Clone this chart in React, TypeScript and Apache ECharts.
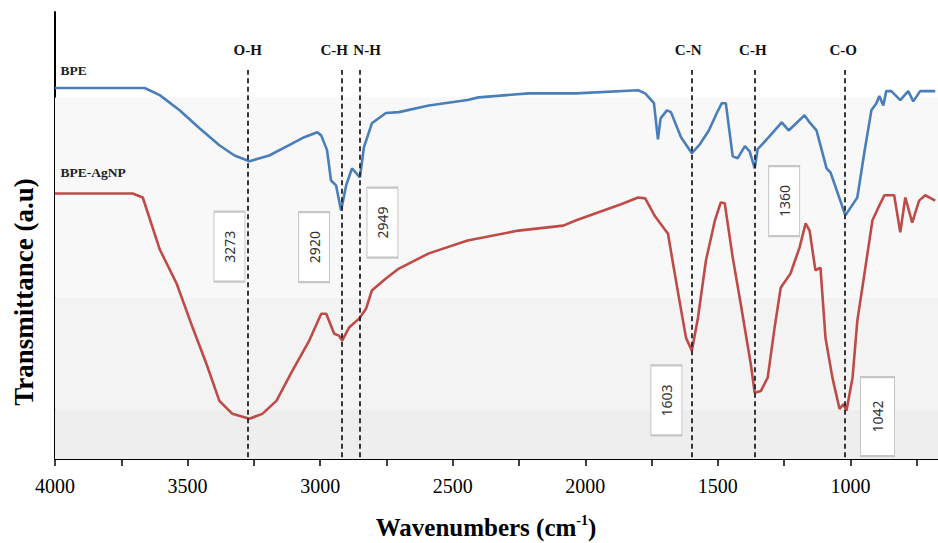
import React, { useEffect, useRef } from "react";
import * as echarts from "echarts";

// ---- Data (wavenumber cm^-1, transmittance a.u.) ----
const bpeWavenumbers = [4000, 3662, 3605, 3530, 3455, 3380, 3323, 3267, 3192, 3117, 3060, 3011, 2996, 2974, 2959, 2940, 2921, 2902, 2880, 2850, 2835, 2805, 2752, 2703, 2590, 2444, 2402, 2214, 2034, 1801, 1774, 1741, 1726, 1716, 1692, 1677, 1639, 1598, 1568, 1534, 1504, 1485, 1470, 1444, 1425, 1398, 1380, 1361, 1350, 1308, 1259, 1233, 1173, 1154, 1128, 1090, 1075, 1019, 974, 947, 921, 902, 891, 876, 865, 846, 812, 782, 763, 737, 680];
const bpeValues = [83.0, 83.0, 81.4, 78.0, 74.0, 70.2, 67.9, 66.6, 67.9, 70.2, 72.0, 73.1, 72.4, 69.1, 62.3, 61.2, 55.6, 61.2, 65.0, 63.0, 69.7, 75.1, 77.4, 77.6, 79.1, 80.3, 80.9, 81.8, 81.8, 82.5, 81.8, 79.6, 71.5, 76.2, 78.0, 77.6, 72.0, 68.4, 70.4, 73.5, 77.4, 79.6, 79.6, 67.7, 67.3, 70.0, 68.8, 65.0, 69.3, 72.0, 75.3, 73.5, 76.9, 75.3, 73.5, 65.0, 64.1, 54.5, 58.5, 68.8, 78.0, 79.6, 81.2, 79.1, 82.3, 82.3, 80.3, 82.3, 80.0, 82.3, 82.3];

const agnpWavenumbers = [4000, 3707, 3669, 3605, 3541, 3481, 3429, 3380, 3331, 3267, 3218, 3165, 3105, 3041, 2996, 2977, 2947, 2929, 2917, 2891, 2853, 2827, 2805, 2752, 2703, 2590, 2444, 2252, 2083, 2034, 1865, 1801, 1774, 1737, 1688, 1669, 1643, 1620, 1598, 1575, 1545, 1511, 1489, 1474, 1444, 1414, 1376, 1361, 1338, 1312, 1286, 1263, 1226, 1192, 1169, 1154, 1132, 1113, 1094, 1068, 1041, 1026, 1015, 992, 974, 947, 917, 887, 872, 835, 812, 793, 767, 741, 718, 680];
const agnpValues = [59.4, 59.4, 58.5, 46.9, 39.2, 29.4, 21.3, 13.0, 10.1, 9.0, 10.1, 13.0, 19.7, 26.5, 32.5, 32.5, 28.0, 27.6, 26.5, 29.4, 31.4, 33.6, 37.7, 40.4, 42.6, 46.0, 48.9, 51.1, 52.2, 53.4, 57.0, 58.5, 58.3, 54.3, 50.4, 43.7, 34.8, 27.1, 24.2, 31.6, 44.4, 53.4, 57.4, 57.2, 45.1, 34.8, 21.3, 14.8, 15.2, 18.2, 29.4, 38.3, 41.5, 47.3, 52.7, 51.1, 42.2, 42.8, 27.1, 18.2, 11.2, 12.3, 10.8, 18.2, 30.9, 41.5, 53.4, 57.2, 59.0, 59.0, 50.7, 58.5, 52.9, 57.8, 59.0, 57.8];

// Vertical marker lines (band assignments)
const bandLineWavenumbers = [3273, 2920, 2850, 1600, 1360, 1020];
const bandNames = ["O-H", "C-H", "N-H", "C-N", "C-H", "C-O"];
const bandNameWavenumbers = [3273, 2947, 2823, 1612, 1368, 1027];
const bandLineTop = 87.0;
const bandLineBottom = 0.4;
const bandNameLevel = 91.6;

// Peak value boxes
const peakLabels = ["3273", "2920", "2949", "1360", "1603", "1042"];
const peakBoxWavenumbers = [3342, 3023, 2765, 1250, 1694, 898];
const peakBoxLevels = [47.5, 47.4, 52.9, 57.7, 13.1, 9.5];

// Series names
const seriesNames = ["BPE", "BPE-AgNP"];
const seriesNameLevels = [87.0, 64.2];
const seriesNameWavenumber = 3981;

// Background bands (y ranges)
const bandEdges = [80.9, 36.1, 11.0, 0];
const bandColors = ["#f8f8f8", "#f3f3f3", "#eeeeee"];

// Axis: full scale 500..4000, visible window ends near 680
const xAxisMin = 500;
const xAxisMax = 4000;
const xTickStep = 250;
const xLabelStep = 500;
const xVisibleMin = 680;

const zip = (a: number[], b: number[]) => a.map((x, i) => [x, b[i]]);

const PAGE_W = 938;
const PAGE_H = 543;
const PLOT_LEFT = 55;
// the chart canvas extends past the page edge so xVisibleMin lands on the edge
const CHART_W = Math.round(
  PAGE_W + ((xVisibleMin - xAxisMin) * (PAGE_W - PLOT_LEFT)) / (xAxisMax - xVisibleMin)
);

export default function App() {
  const ref = useRef<HTMLDivElement>(null);
  useEffect(() => {
    if (!ref.current) return;
    const chart = echarts.init(ref.current, undefined, { renderer: "svg" });
    const serif = "'Liberation Serif', 'Times New Roman', serif";
    const option: any = {
      animation: false,
      backgroundColor: "#ffffff",
      grid: { left: PLOT_LEFT, right: 0, top: 12, bottom: 84 },
      xAxis: {
        type: "value",
        inverse: true,
        min: xAxisMin,
        max: xAxisMax,
        interval: xTickStep,
        axisLine: { show: true, lineStyle: { color: "#000", width: 2 } },
        axisTick: {
          show: true,
          length: 7,
          inside: false,
          lineStyle: { color: "#000", width: 1.5 },
        },
        axisLabel: {
          margin: 17,
          color: "#000",
          fontSize: 20,
          fontFamily: serif,
          showMinLabel: true,
          showMaxLabel: true,
          formatter: (v: number) => (v % xLabelStep === 0 && v > xAxisMin ? String(v) : ""),
        },
        splitLine: { show: false },
      },
      yAxis: {
        type: "value",
        min: 0,
        max: 100,
        axisLine: { show: true, lineStyle: { color: "#000", width: 2 } },
        axisTick: { show: false },
        axisLabel: { show: false },
        splitLine: { show: false },
      },
      graphic: [
        {
          type: "text",
          x: 24,
          y: 292,
          rotation: Math.PI / 2,
          style: {
            text: "Transmittance (a.u)",
            fontSize: 27,
            fontWeight: "bold",
            fontFamily: serif,
            fill: "#000",
            textAlign: "center",
            textVerticalAlign: "middle",
          },
        },
        {
          type: "text",
          x: 486,
          y: 527,
          style: {
            text: "{a|Wavenumbers (cm}{s|-1}{a|)}",
            align: "center",
            verticalAlign: "middle",
            rich: {
              a: { fontSize: 25, fontWeight: "bold", fontFamily: serif, fill: "#000" },
              s: { fontSize: 14, fontWeight: "bold", fontFamily: serif, fill: "#000", padding: [0, 0, 13, 0] },
            },
          },
        },
      ],
      series: [
        {
          name: "bands",
          type: "line",
          z: 0,
          data: [[4000, 0]],
          showSymbol: false,
          lineStyle: { opacity: 0 },
          silent: true,
          markArea: {
            silent: true,
            data: bandColors.map((c, i) => [
              { yAxis: bandEdges[i], itemStyle: { color: c } },
              { yAxis: bandEdges[i + 1] },
            ]),
          },
        },
        {
          name: seriesNames[0],
          type: "line",
          z: 3,
          data: zip(bpeWavenumbers, bpeValues),
          showSymbol: false,
          lineStyle: { color: "#4a7ebb", width: 2.6 },
          itemStyle: { color: "#4a7ebb" },
        },
        {
          name: seriesNames[1],
          type: "line",
          z: 3,
          data: zip(agnpWavenumbers, agnpValues),
          showSymbol: false,
          lineStyle: { color: "#be4b48", width: 2.6 },
          itemStyle: { color: "#be4b48" },
        },
        {
          name: "annotations",
          type: "line",
          z: 5,
          data: [[4000, 0]],
          showSymbol: false,
          lineStyle: { opacity: 0 },
          silent: true,
          markLine: {
            silent: true,
            symbol: ["none", "none"],
            label: { show: false },
            lineStyle: { color: "#222", width: 1.8, type: [5, 3.5] },
            data: bandLineWavenumbers.map((w) => [
              { coord: [w, bandLineBottom] },
              { coord: [w, bandLineTop] },
            ]),
          },
          markPoint: {
            silent: true,
            data: [
              ...bandNames.map((n, i) => ({
                name: n,
                coord: [bandNameWavenumbers[i], bandNameLevel],
                symbol: "rect",
                symbolSize: 1,
                itemStyle: { color: "rgba(0,0,0,0)" },
                label: {
                  show: true,
                  position: "inside",
                  formatter: n,
                  fontSize: 15,
                  fontWeight: "bold",
                  fontFamily: serif,
                  color: "#111",
                },
              })),
              ...seriesNames.map((n, i) => ({
                name: n,
                coord: [seriesNameWavenumber, seriesNameLevels[i]],
                symbol: "rect",
                symbolSize: 1,
                itemStyle: { color: "rgba(0,0,0,0)" },
                label: {
                  show: true,
                  position: "right",
                  distance: 0,
                  formatter: n,
                  fontSize: 13.5,
                  fontWeight: "bold",
                  fontFamily: serif,
                  color: "#222",
                },
              })),
              ...peakLabels.map((t, i) => ({
                name: t,
                coord: [peakBoxWavenumbers[i], peakBoxLevels[i]],
                symbol: "rect",
                symbolSize: t === "1042" ? [34, 79] : [31, 70],
                itemStyle: { color: "#ffffff", borderColor: "#c6c6c6", borderWidth: 1.5 },
                label: {
                  show: true,
                  position: "inside",
                  rotate: 90,
                  formatter: t,
                  fontSize: 14,
                  fontFamily: "'Noto Sans', 'DejaVu Sans', sans-serif",
                  color: "#333",
                },
              })),
            ],
          },
        },
      ],
    };
    chart.setOption(option);
    return () => chart.dispose();
  }, []);
  return (
    <div
      style={{
        position: "fixed",
        left: 0,
        top: 0,
        width: PAGE_W,
        height: PAGE_H,
        overflow: "hidden",
        background: "#fff",
      }}
    >
      <div ref={ref} style={{ width: CHART_W, height: PAGE_H }} />
    </div>
  );
}
